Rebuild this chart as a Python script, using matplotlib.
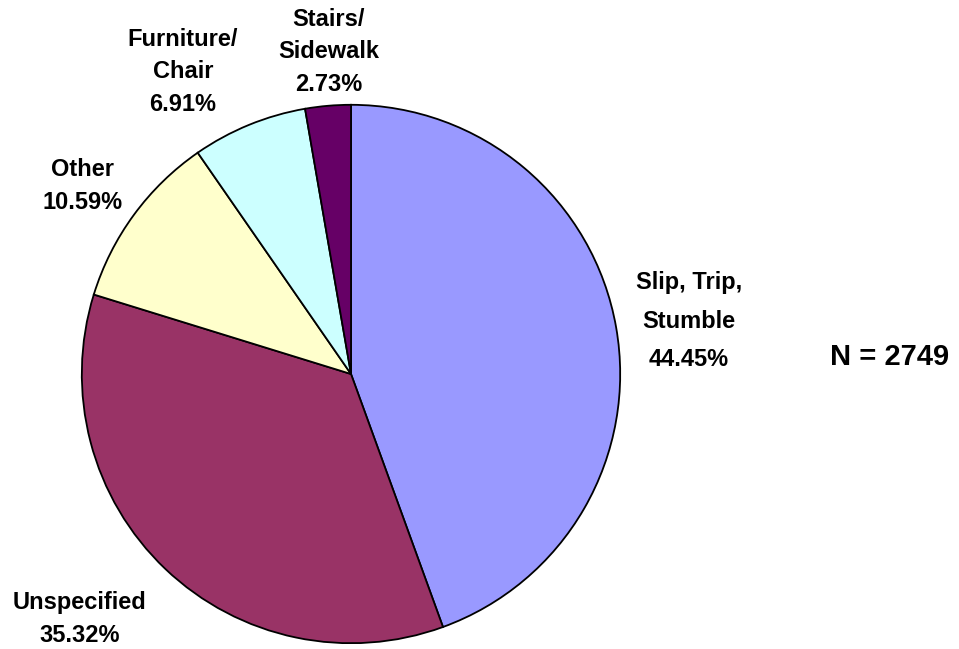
import matplotlib
matplotlib.use('Agg')
import matplotlib.pyplot as plt

plt.rcParams['font.family'] = ['Liberation Sans', 'DejaVu Sans']

# 数据
categories = ['Slip, Trip,\nStumble', 'Unspecified', 'Other',
              'Furniture/\nChair', 'Stairs/\nSidewalk']
shares = [44.45, 35.32, 10.59, 6.91, 2.73]
colors = ['#9999FF', '#993366', '#FFFFCC', '#CCFFFF', '#660066']
n_total = 2749

# 标签中心 (像素, 原图坐标) 和行距
label_pos = [(689, 321), (80, 619), (83, 186), (183, 72), (329, 52)]
label_ls = [1.85, 1.55, 1.55, 1.55, 1.55]

W, H = 959, 649
fig = plt.figure(figsize=(W / 100, H / 100), dpi=100)
ax = fig.add_axes([(351 - 270) / W, (H - 644) / H, 540 / W, 540 / H])

ax.pie(shares, colors=colors, startangle=90, counterclock=False,
       wedgeprops=dict(edgecolor='black', linewidth=1.3))
ax.set_xlim(-1.003, 1.003)
ax.set_ylim(-1.003, 1.003)
ax.set_aspect('equal')

for name, val, (px, py), ls in zip(categories, shares, label_pos, label_ls):
    fig.text(px / W, 1 - py / H, f'{name}\n{val:.2f}%',
             ha='center', va='center', fontsize=17, fontweight='bold',
             linespacing=ls)

fig.text(890 / W, 1 - 357 / H, f'N = {n_total}', ha='center', va='center',
         fontsize=21, fontweight='bold')

fig.savefig('out.png', dpi=100)
